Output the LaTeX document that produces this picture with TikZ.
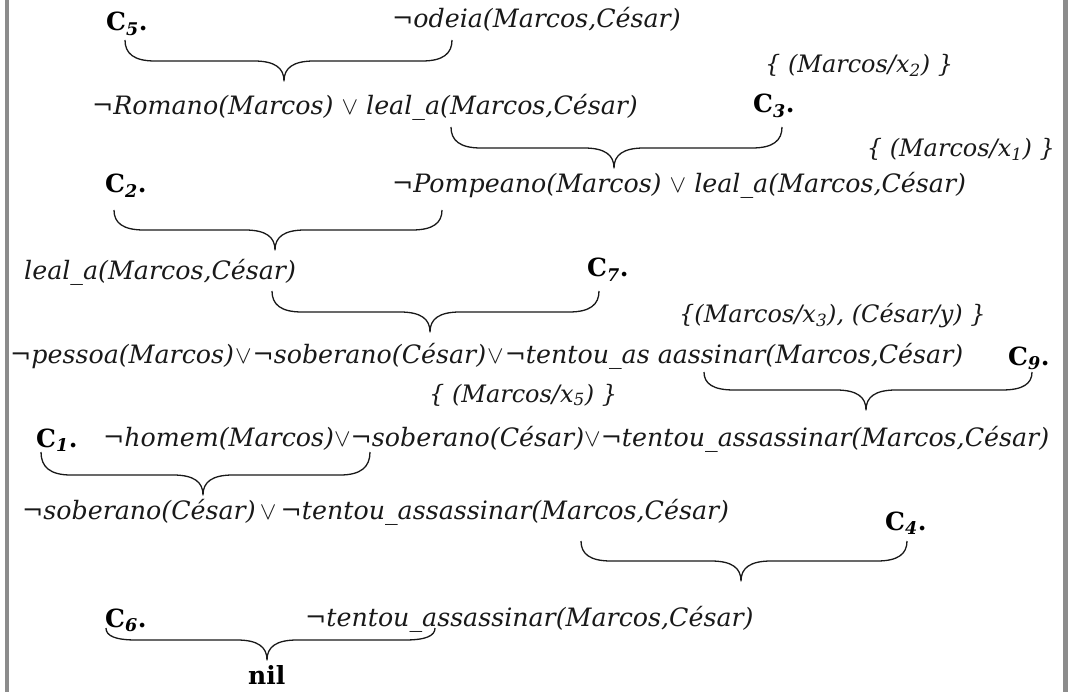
\documentclass[tikz,border=0pt]{standalone}
\usepackage{fontspec}
\setmainfont{DejaVu Serif}
\usetikzlibrary{calc}

% clause names such as C_5.
\newcommand\cname[1]{C\textsubscript{\itshape #1}.}
\newcommand\ssub[1]{\textsubscript{#1}}
\newcommand\negsym{¬}
\newcommand\orsym{\ensuremath{\vee}}

\tikzset{
  clause/.style={anchor=base west, inner sep=0pt, text=black!90,
    font=\itshape\fontsize{25.3}{30}\selectfont},
  subst/.style={anchor=base west, inner sep=0pt, text=black!90,
    font=\itshape\fontsize{24}{28}\selectfont},
  cnode/.style={anchor=base west, inner sep=0pt,
    font=\bfseries\fontsize{25}{30}\selectfont},
  resbrace/.style={line width=1.3pt, line join=round, black!90},
  sidebar/.style={fill=black!45, draw=none}
}

% resolution brace: left end, right end, tip
\newcommand\resolve[3]{%
  \draw[resbrace] let \p1=(#1), \p2=(#2), \p3=(#3), \p4=($(#3)+(0,-20)$) in
    (\p1) .. controls (\x1,{0.35*\y1+0.65*\y4}) and (\x1+9pt,\y4) .. (\x1+30pt,\y4)
    -- (\x3-30pt,\y4) .. controls (\x3-9pt,\y4) and (\x3,\y4-7pt) .. (\p3)
    .. controls (\x3,\y4-7pt) and (\x3+9pt,\y4) .. (\x3+30pt,\y4)
    -- (\x2-30pt,\y4) .. controls (\x2-9pt,\y4) and (\x2,{0.35*\y2+0.65*\y4}) .. (\p2);}

\begin{document}
\begin{tikzpicture}[x=1pt, y=-1pt]
  \useasboundingbox (0,0) rectangle (1070,692);
  \fill[white] (0,0) rectangle (1070,692);
  \fill[sidebar] (5,0) rectangle (9,692);
  \fill[sidebar] (1063,0) rectangle (1068,692);

  % clauses, resolvents and substitutions
  \node[cnode]  (c5) at (106,31) {\cname{5}};
  \node[clause] (r1) at (392,28) {\negsym odeia(Marcos,César)};
  \node[subst]  (s2) at (765,73) {\{ (Marcos/x\ssub{2}) \}};
  \node[clause] (r2) at (92,115) {\negsym Romano(Marcos) \orsym{} leal\_a(Marcos,César)};
  \node[cnode]  (c3) at (753,113) {\cname{3}};
  \node[subst, anchor=base east] (s1) at (1055,157) {\{ (Marcos/x\ssub{1}) \}};
  \node[cnode]  (c2) at (105,193) {\cname{2}};
  \node[clause] (r3) at (392,193) {\negsym Pompeano(Marcos) \orsym{} leal\_a(Marcos,César)};
  \node[clause] (r4) at (24,280) {leal\_a(Marcos,César)};
  \node[cnode]  (c7) at (587,277) {\cname{7}};
  \node[subst]  (s3) at (679,323) {\{(Marcos/x\ssub{3}), (César/y) \}};
  \node[clause] (r5) at (10,363) {\negsym pessoa(Marcos)\hspace{1pt}\orsym\hspace{1pt}\negsym soberano(César)\hspace{1pt}\orsym\hspace{1pt}\negsym tentou\_as aassinar(Marcos,César)};
  \node[cnode]  (c9) at (1008,365) {\cname{9}};
  \node[subst]  (s5) at (429,402) {\{ (Marcos/x\ssub{5}) \}};
  \node[cnode]  (c1) at (36,447) {\cname{1}};
  \node[clause] (r6) at (103,446) {\negsym homem(Marcos)\orsym\negsym soberano(César)\orsym\negsym tentou\_assassinar(Marcos,César)};
  \node[clause] (r7) at (22,519) {\negsym soberano(César)\,\orsym\,\negsym tentou\_assassinar(Marcos,César)};
  \node[cnode]  (c4) at (885,530) {\cname{4}};
  \node[cnode]  (c6) at (105,627) {\cname{6}};
  \node[clause] (r8) at (305,626) {\negsym tentou\_assassinar(Marcos,César)};
  \node[cnode]  (nil) at (248,684) {nil};

  % brace end points and tips
  \coordinate (b1l) at (125,40);  \coordinate (b1r) at (452,40);  \coordinate (b1t) at (284,81);
  \coordinate (b2l) at (451,127); \coordinate (b2r) at (782,127); \coordinate (b2t) at (614,168);
  \coordinate (b3l) at (114,210); \coordinate (b3r) at (442,210); \coordinate (b3t) at (275,250);
  \coordinate (b4l) at (272,291); \coordinate (b4r) at (599,291); \coordinate (b4t) at (430,332);
  \coordinate (b5l) at (704,372); \coordinate (b5r) at (1032,372); \coordinate (b5t) at (866,410);
  \coordinate (b6l) at (41,452);  \coordinate (b6r) at (370,452); \coordinate (b6t) at (203,495);
  \coordinate (b7l) at (581,541); \coordinate (b7r) at (907,541); \coordinate (b7t) at (741,581);
  \coordinate (b8l) at (106,628); \coordinate (b8r) at (435,628); \coordinate (b8t) at (267,660);

  \resolve{b1l}{b1r}{b1t}
  \resolve{b2l}{b2r}{b2t}
  \resolve{b3l}{b3r}{b3t}
  \resolve{b4l}{b4r}{b4t}
  \resolve{b5l}{b5r}{b5t}
  \resolve{b6l}{b6r}{b6t}
  \resolve{b7l}{b7r}{b7t}
  \resolve{b8l}{b8r}{b8t}
\end{tikzpicture}
\end{document}
